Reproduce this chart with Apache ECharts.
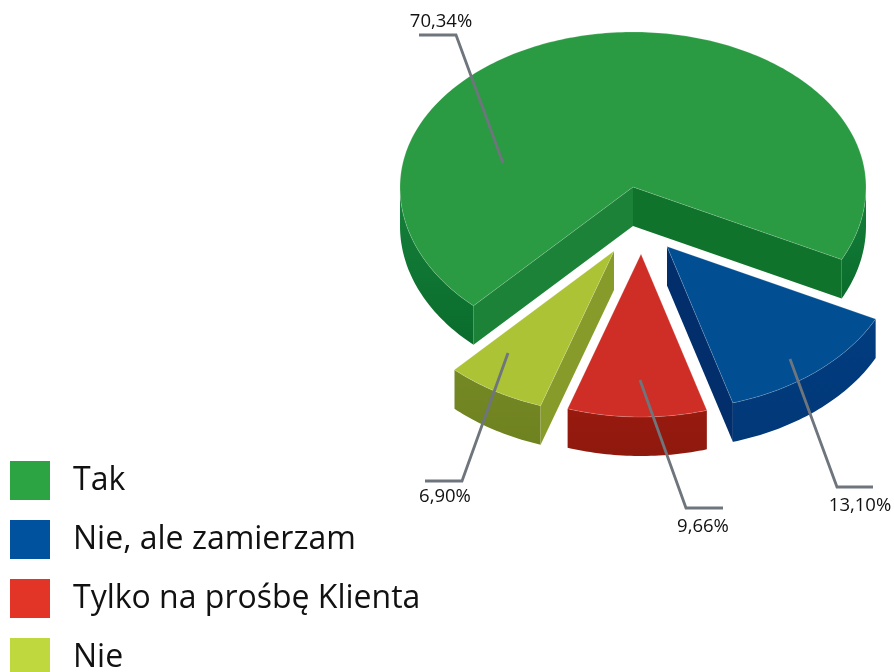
<!DOCTYPE html>
<html><head><meta charset="utf-8">
<style>html,body{margin:0;padding:0;background:#fff;overflow:hidden}#c{width:894px;height:672px}</style>
<script src="https://cdn.jsdelivr.net/npm/echarts@6/dist/echarts.min.js"></script>
</head><body><div id="c"></div>
<script>
// data
const categories = ['Tak', 'Nie, ale zamierzam', 'Tylko na prośbę Klienta', 'Nie'];
const values = [70.34, 13.10, 9.66, 6.90];
// style
const legendColors = ['#2ca444', '#01529e', '#e23427', '#bfd83d'];
const topColors = ['#2b9b43', '#024e92', '#cf2e26', '#acc336'];
const wallColors = [['#15803a', '#0a6c2c'], ['#023d80', '#013878'], ['#98190f', '#8f190d'], ['#748824', '#6f8220']];
const startFaceColors = ['#1c8237', null, null, '#879b2a'];
const endFaceColors = ['#10732b', '#022f6c', null, null];
// layout
const CX = 633, CY = 187, RX = 233, RY_BACK = 155, RY_FRONT = 163, DEPTH = 39, START = 133.2;
const explode = [[0, 0], [34, 59.5], [8, 67], [-19, 64]];
const leaderPaths = [
  [[503, 163], [456, 35], [419, 35]],
  [[790, 359], [837, 487], [873, 487]],
  [[640, 380], [686, 508], [723, 508]],
  [[508, 353], [462, 481], [425, 481]]
];
const labelPos = [[441, 22], [860, 506], [703, 527], [445, 497]];

const total = values.reduce((a, b) => a + b, 0);
function angles(i) {
  let a = START;
  for (let k = 0; k < i; k++) a += values[k] / total * 360;
  return [a, a + values[i] / total * 360];
}
function pt(i, deg, dy) {
  const t = deg * Math.PI / 180, s = Math.sin(t);
  return [CX + explode[i][0] + RX * Math.cos(t),
          CY + explode[i][1] + s * (s > 0 ? RY_FRONT : RY_BACK) + (dy || 0)];
}
function poly(points, fill, extra) {
  return Object.assign({ type: 'polygon', shape: { points: points }, style: { fill: fill } }, extra || {});
}
function renderSlice(params, api) {
  const i = params.seriesIndex;
  const [a0, a1] = angles(i);
  const apex = [CX + explode[i][0], CY + explode[i][1]];
  const apexB = [apex[0], apex[1] + DEPTH];
  const children = [];
  // outer wall runs
  let run = [];
  const flush = () => {
    if (run.length > 1) {
      const top = run.map(d => pt(i, d));
      const bot = run.map(d => pt(i, d, DEPTH)).reverse();
      children.push(poly(top.concat(bot), {
        type: 'linear', x: 0, y: 0, x2: 0, y2: 1,
        colorStops: [{ offset: 0, color: wallColors[i][0] }, { offset: 1, color: wallColors[i][1] }]
      }));
    }
    run = [];
  };
  for (let d = a0; ; d += 1) {
    const cur = Math.min(d, a1);
    if (Math.sin(cur * Math.PI / 180) >= 0) run.push(cur); else flush();
    if (cur >= a1) break;
  }
  flush();
  // cut faces
  if (startFaceColors[i]) {
    const e = pt(i, a0);
    children.push(poly([apex, e, [e[0], e[1] + DEPTH], apexB], startFaceColors[i]));
  }
  if (endFaceColors[i]) {
    const e = pt(i, a1);
    children.push(poly([apex, e, [e[0], e[1] + DEPTH], apexB], endFaceColors[i]));
  }
  // top face
  const topPts = [apex];
  for (let d = a0; d < a1; d += 1) topPts.push(pt(i, d));
  topPts.push(pt(i, a1));
  children.push({
    type: 'polygon', shape: { points: topPts },
    style: { fill: topColors[i], stroke: 'rgba(255,255,255,0.18)', lineWidth: 1, lineJoin: 'round' }
  });
  // leader + label
  children.push({
    type: 'polyline', shape: { points: leaderPaths[i] },
    style: { fill: null, stroke: '#6e757d', lineWidth: 2.8 }
  });
  children.push({
    type: 'text',
    style: {
      text: api.value(0).toFixed(2).replace('.', ',') + '%',
      x: labelPos[i][0], y: labelPos[i][1], align: 'center', verticalAlign: 'middle',
      fill: '#111', font: '18.5px "Open Sans"'
    }
  });
  return { type: 'group', children: children };
}
const chart = echarts.init(document.getElementById('c'), null, { renderer: 'canvas' });
chart.setOption({
  animation: false,
  backgroundColor: '#fff',
  legend: {
    orient: 'vertical', left: 10, top: 461, height: 240, padding: 0,
    itemWidth: 40, itemHeight: 39, itemGap: 20, selectedMode: false,
    icon: 'rect',
    data: categories.map((n, i) => ({ name: n, itemStyle: { color: legendColors[i] } })),
    textStyle: { fontFamily: 'Open Sans', fontSize: 32, color: '#111', padding: [2, 0, 0, 18] }
  },
  series: categories.map((n, i) => ({
    type: 'custom', name: n, coordinateSystem: 'none', clip: false,
    z: 2 + i, renderItem: renderSlice, data: [[values[i]]],
    itemStyle: { color: legendColors[i] }
  }))
});
</script></body></html>
